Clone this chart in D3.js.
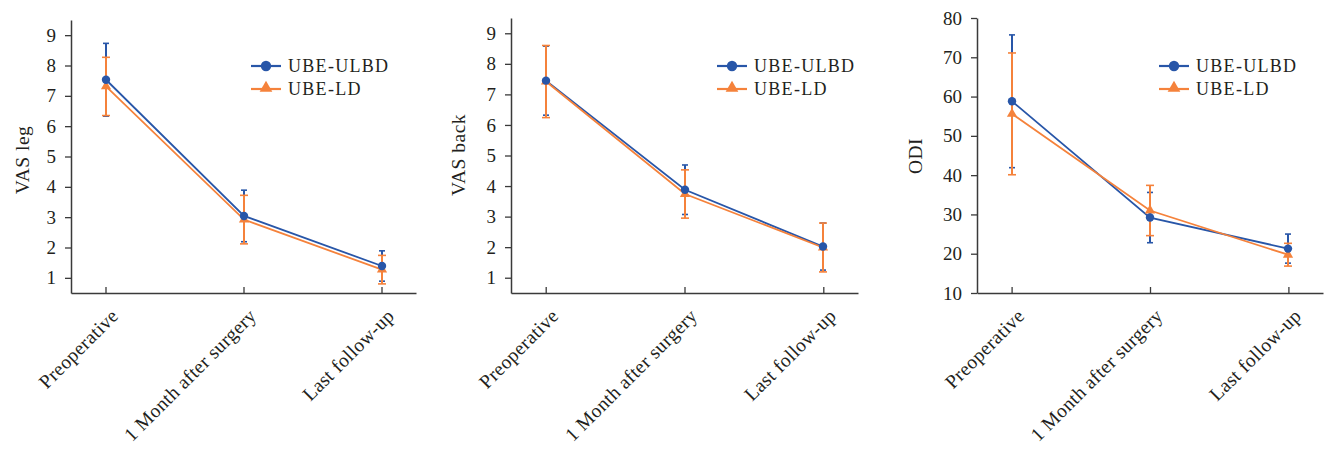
<!DOCTYPE html>
<html>
<head>
<meta charset="utf-8">
<script src="https://cdn.jsdelivr.net/npm/d3@7"></script>
<style>
  html, body { margin: 0; padding: 0; background: #fff; }
  svg { display: block; }
  text { font-family: "Liberation Serif", "DejaVu Serif", serif; fill: #231f20; }
</style>
</head>
<body>
<svg id="chart" width="1325" height="450"></svg>
<script>
// ---- data ----
const categories = ["Preoperative", "1 Month after surgery", "Last follow-up"];
const seriesNames = ["UBE-ULBD", "UBE-LD"];

const vasLegULBD = [7.53, 3.04, 1.39];
const vasLegULBDsd = [1.20, 0.85, 0.50];
const vasLegLD = [7.31, 2.92, 1.27];
const vasLegLDsd = [0.96, 0.80, 0.47];

const vasBackULBD = [7.45, 3.88, 2.02];
const vasBackULBDsd = [1.13, 0.81, 0.77];
const vasBackLD = [7.42, 3.74, 1.99];
const vasBackLDsd = [1.18, 0.79, 0.80];

const odiULBD = [58.8, 29.2, 21.3];
const odiULBDsd = [16.9, 6.4, 3.7];
const odiLD = [55.6, 31.0, 19.75];
const odiLDsd = [15.5, 6.4, 2.9];

const vasTicks = [1, 2, 3, 4, 5, 6, 7, 8, 9];
const odiTicks = [10, 20, 30, 40, 50, 60, 70, 80];

const colors = ["#2856a8", "#f5823b"];
const axisColor = "#3a3a3a";

const panels = [
  { title: "VAS leg", left: 71, right: 416, top: 20, bottom: 293, domain: [0.5, 9.5], ticks: vasTicks,
    means: [vasLegULBD, vasLegLD], sds: [vasLegULBDsd, vasLegLDsd], titleX: 22, titleY: 160, legendX: 251 },
  { title: "VAS back", left: 511, right: 858, top: 18, bottom: 293, domain: [0.5, 9.5], ticks: vasTicks,
    means: [vasBackULBD, vasBackLD], sds: [vasBackULBDsd, vasBackLDsd], titleX: 458, titleY: 155, legendX: 717 },
  { title: "ODI", left: 977, right: 1323, top: 18, bottom: 293, domain: [10, 80], ticks: odiTicks,
    means: [odiULBD, odiLD], sds: [odiULBDsd, odiLDsd], titleX: 915, titleY: 156, legendX: 1159 }
];

const svg = d3.select("#chart");

panels.forEach(p => {
  const g = svg.append("g");
  const x = d3.scalePoint().domain(categories).range([p.left, p.right]).padding(0.25);
  const y = d3.scaleLinear().domain(p.domain).range([p.bottom, p.top]);
  const px = c => Math.round(x(c));

  // y axis
  const ya = g.append("g").attr("transform", `translate(${p.left},0)`)
    .call(d3.axisLeft(y).tickValues(p.ticks).tickSize(6).tickSizeOuter(0).tickPadding(9));
  ya.select(".domain").attr("stroke", axisColor).attr("stroke-width", 1.5);
  ya.selectAll(".tick line").attr("stroke", axisColor).attr("stroke-width", 1.3);
  ya.selectAll(".tick text").attr("font-size", 19).attr("font-family", "Liberation Serif").attr("fill", "#231f20");

  // x axis
  const xa = g.append("g").attr("transform", `translate(0,${p.bottom})`)
    .call(d3.axisBottom(x).tickSizeInner(-6).tickSizeOuter(0).tickFormat(""));
  xa.select(".domain").attr("stroke", axisColor).attr("stroke-width", 1.5);
  xa.selectAll(".tick line").attr("stroke", axisColor).attr("stroke-width", 1.3);

  // x labels
  g.selectAll(".xlab").data(categories).enter().append("text")
    .attr("class", "xlab")
    .attr("transform", d => `translate(${x(d) + 14},${p.bottom + 24}) rotate(-45)`)
    .attr("text-anchor", "end")
    .attr("font-size", 19.5)
    .attr("letter-spacing", "0.35px")
    .text(d => d);

  // y title
  g.append("text")
    .attr("transform", `translate(${p.titleX},${p.titleY}) rotate(-90)`)
    .attr("text-anchor", "middle")
    .attr("dominant-baseline", "central")
    .attr("font-size", 19.5)
    .attr("letter-spacing", "0.5px")
    .text(p.title);

  // error bars
  [0, 1].forEach(si => {
    const col = colors[si];
    const capW = si === 0 ? 3 : 4;
    const eb = g.append("g");
    categories.forEach((c, i) => {
      const m = p.means[si][i], s = p.sds[si][i];
      const cx = px(c);
      eb.append("line").attr("x1", cx).attr("x2", cx).attr("y1", y(m - s)).attr("y2", y(m + s))
        .attr("stroke", col).attr("stroke-width", 2);
      [m - s, m + s].forEach(v => {
        eb.append("line").attr("x1", cx - capW).attr("x2", cx + capW).attr("y1", y(v)).attr("y2", y(v))
          .attr("stroke", col).attr("stroke-width", 1.6);
      });
    });
  });

  // lines
  [0, 1].forEach(si => {
    const line = d3.line().x((d, i) => px(categories[i])).y(d => y(d));
    g.append("path").datum(p.means[si]).attr("d", line)
      .attr("fill", "none").attr("stroke", colors[si]).attr("stroke-width", 1.8);
  });

  // markers
  const tri = d3.symbol().type(d3.symbolTriangle).size(45);
  g.append("g").selectAll("path").data(p.means[1]).enter().append("path")
    .attr("d", tri)
    .attr("transform", (d, i) => `translate(${px(categories[i])},${y(d)})`)
    .attr("fill", colors[1]);
  g.append("g").selectAll("circle").data(p.means[0]).enter().append("circle")
    .attr("cx", (d, i) => px(categories[i])).attr("cy", d => y(d)).attr("r", 4.2)
    .attr("fill", colors[0]);

  // legend
  const lg = g.append("g");
  seriesNames.forEach((nm, si) => {
    const ly = 66 + si * 23;
    lg.append("line").attr("x1", p.legendX).attr("x2", p.legendX + 30).attr("y1", ly).attr("y2", ly)
      .attr("stroke", colors[si]).attr("stroke-width", 2.2);
    if (si === 0) {
      lg.append("circle").attr("cx", p.legendX + 15).attr("cy", ly).attr("r", 5.2).attr("fill", colors[0]);
    } else {
      lg.append("path").attr("d", d3.symbol().type(d3.symbolTriangle).size(70))
        .attr("transform", `translate(${p.legendX + 15},${ly - 1})`).attr("fill", colors[1]);
    }
    lg.append("text").attr("x", p.legendX + 37).attr("y", ly).attr("dominant-baseline", "central")
      .attr("font-size", 18).attr("letter-spacing", "1.3px").text(nm);
  });
});
</script>
</body>
</html>
